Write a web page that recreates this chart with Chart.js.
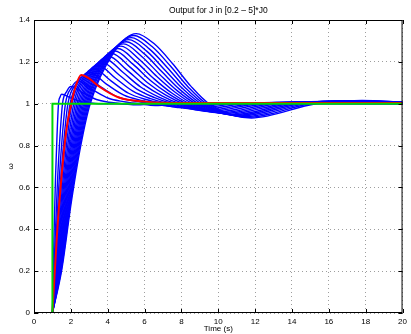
<!DOCTYPE html>
<html>
<head>
<meta charset="utf-8">
<script src="https://cdn.jsdelivr.net/npm/chart.js@4.4.1/dist/chart.umd.min.js"></script>
<style>
  html, body { margin: 0; background: #fff; }
</style>
</head>
<body>
<canvas id="chart" width="411" height="334"></canvas>
<script>
const titleText = "Output for J in [0.2 \u2013 5]*J0";
const xLabel = "Time (s)";
const yLabel = "\u03c9";

const xTicks = [0, 2, 4, 6, 8, 10, 12, 14, 16, 18, 20];
const xTickLabels = ["0", "2", "4", "6", "8", "10", "12", "14", "16", "18", "20"];
const yTicks = [0, 0.2, 0.4, 0.6, 0.8, 1, 1.2, 1.4];
const yTickLabels = ["0", "0.2", "0.4", "0.6", "0.8", "1", "1.2", "1.4"];

// reference step
const greenStep = [[0, 0], [1, 0], [1, 1], [20, 1]];

// nominal response (red)
const redStart = [[0, 0], [1, 0]];
const redCurve = [[1, 0], [1.25, 0.38], [1.5, 0.66], [1.75, 0.87], [2, 0.99], [2.25, 1.08],
  [2.56, 1.137], [3, 1.12], [3.55, 1.081], [4.6, 1.03], [6.06, 1.01], [8, 1.003], [20, 1.003]];

// responses for the J sweep (blue), fastest first
const blueCurves = [
  [[1,0],[1.08,0.35],[1.165,0.64],[1.25,0.85],[1.33,1],[1.415,1.032],[1.5,1.045],[2.0,1.027],[2.5,1.011],[3.0,1.004],[3.5,1],[20,1]],
  [[1,0],[1.137,0.332],[1.273,0.626],[1.41,0.844],[1.547,1],[1.779,1.059],[2.01,1.082],[2.70,1.049],[3.39,1.020],[4.07,1.007],[4.76,1],[5.49,0.995],[6.80,1],[9.3,1.001],[20,1]],
  [[1,0],[1.177,0.319],[1.353,0.616],[1.53,0.839],[1.707,1],[2.047,1.078],[2.387,1.109],[3.21,1.065],[4.04,1.026],[4.86,1.010],[5.69,1],[6.58,0.991],[8.13,1],[10.63,1.002],[20,1.001]],
  [[1,0],[1.21,0.308],[1.421,0.607],[1.631,0.835],[1.841,1],[2.272,1.094],[2.703,1.131],[3.645,1.079],[4.587,1.031],[5.528,1.012],[6.47,1],[7.51,0.986],[9.25,1],[11.75,1.003],[20,1.001]],
  [[1,0],[1.24,0.299],[1.479,0.600],[1.719,0.832],[1.958,1],[2.468,1.109],[2.978,1.151],[3.928,1.094],[4.879,1.041],[5.829,1.016],[6.78,1],[7.94,0.982],[9.85,1],[12.35,1.004],[20,1.002]],
  [[1,0],[1.266,0.290],[1.532,0.593],[1.797,0.829],[2.063,1],[2.644,1.121],[3.225,1.169],[4.179,1.109],[5.133,1.050],[6.086,1.020],[7.04,1],[8.31,0.978],[10.37,1],[12.87,1.004],[20,1.002]],
  [[1,0],[1.29,0.283],[1.58,0.587],[1.869,0.826],[2.159,1],[2.806,1.133],[3.452,1.185],[4.409,1.123],[5.366,1.060],[6.323,1.024],[7.28,1],[8.65,0.974],[10.85,1],[13.35,1.005],[20,1.003]],
  [[1,0],[1.312,0.275],[1.624,0.581],[1.936,0.823],[2.248,1],[2.956,1.144],[3.663,1.200],[4.623,1.137],[5.583,1.070],[6.543,1.029],[7.50,1],[8.96,0.970],[11.30,1],[13.8,1.006],[20,1.003]],
  [[1,0],[1.333,0.268],[1.667,0.576],[2.0,0.821],[2.333,1],[3.097,1.154],[3.861,1.214],[4.824,1.150],[5.787,1.080],[6.75,1.033],[7.71,1],[9.26,0.966],[11.72,1],[14.22,1.007],[20,1.004]],
  [[1,0],[1.353,0.262],[1.706,0.571],[2.059,0.819],[2.412,1],[3.23,1.164],[4.047,1.227],[5.013,1.163],[5.979,1.090],[6.944,1.038],[7.91,1],[9.54,0.963],[12.11,1],[14.61,1.008],[20,1.004]],
  [[1,0],[1.372,0.256],[1.744,0.566],[2.116,0.816],[2.488,1],[3.357,1.173],[4.226,1.240],[5.194,1.176],[6.163,1.100],[7.131,1.042],[8.10,1],[9.81,0.959],[12.49,1],[14.99,1.009],[20,1.004]],
  [[1,0],[1.39,0.250],[1.78,0.561],[2.17,0.814],[2.56,1],[3.478,1.182],[4.396,1.252],[5.367,1.189],[6.338,1.110],[7.308,1.047],[8.28,1],[10.07,0.956],[12.86,1],[15.36,1.010],[20,1.005]],
  [[1,0],[1.407,0.244],[1.815,0.557],[2.222,0.812],[2.629,1],[3.594,1.190],[4.558,1.264],[5.531,1.201],[6.504,1.120],[7.477,1.051],[8.45,1],[10.31,0.953],[13.2,1],[15.7,1.0105],[20,1.005]],
  [[1,0],[1.424,0.239],[1.848,0.553],[2.272,0.810],[2.696,1],[3.706,1.198],[4.716,1.275],[5.691,1.214],[6.667,1.130],[7.642,1.056],[8.62,1],[10.55,0.950],[13.53,1],[16.03,1.011],[20,1.006]],
  [[1,0],[1.44,0.234],[1.88,0.549],[2.319,0.808],[2.759,1],[3.812,1.206],[4.866,1.286],[5.844,1.226],[6.821,1.140],[7.799,1.060],[8.78,1],[10.78,0.947],[13.86,1],[16.36,1.012],[20,1.006]],
  [[1,0],[1.455,0.229],[1.911,0.545],[2.366,0.807],[2.821,1],[3.916,1.213],[5.011,1.296],[5.991,1.238],[6.971,1.150],[7.95,1.065],[8.93,1],[10.99,0.944],[14.16,1],[16.66,1.013],[20,1.007]],
  [[1,0],[1.47,0.224],[1.94,0.541],[2.41,0.805],[2.88,1],[4.015,1.221],[5.149,1.306],[6.131,1.250],[7.113,1.160],[8.094,1.070],[9.08,1],[11.2,0.941],[14.45,1],[16.95,1.014],[20,1.007]],
  [[1,0],[1.485,0.219],[1.969,0.537],[2.454,0.803],[2.938,1],[4.113,1.228],[5.287,1.316],[6.271,1.261],[7.255,1.171],[8.238,1.074],[9.22,1],[11.4,0.938],[14.74,1],[17.24,1.0145],[20,1.007]],
  [[1,0],[1.499,0.215],[1.998,0.534],[2.496,0.802],[2.995,1],[4.208,1.235],[5.42,1.326],[6.406,1.273],[7.392,1.181],[8.377,1.079],[9.36,1],[11.6,0.935],[15.02,1],[17.52,1.015],[20,1.008]],
  [[1,0],[1.513,0.21],[2.025,0.53],[2.538,0.80],[3.05,1],[4.3,1.241],[5.55,1.335],[6.54,1.285],[7.525,1.191],[8.51,1.084],[9.5,1],[11.8,0.932],[15.3,1],[17.8,1.016],[20,1.008]],
];

const FONT = '"Liberation Sans", Arial, sans-serif';
const toPoints = (arr) => arr.map(([x, y]) => ({ x, y }));

const datasets = [
  { data: toPoints(redStart), borderColor: "#ff0000", borderWidth: 2, order: -1 },
  { data: toPoints(greenStep), borderColor: "#00d800", borderWidth: 2, order: 0 },
  { data: toPoints(redCurve), borderColor: "#ff0000", borderWidth: 2, cubicInterpolationMode: "monotone", order: 1 },
];
blueCurves.forEach((curve) => {
  datasets.push({
    data: toPoints(curve),
    borderColor: "#0000ff",
    borderWidth: 1.4,
    cubicInterpolationMode: "monotone",
    order: 2,
  });
});

// box, inward ticks and text, drawn like a MATLAB axes
const axesFrame = {
  id: "axesFrame",
  afterDatasetsDraw(chart) {
    const { ctx, chartArea: a, scales } = chart;
    const len = 4;
    ctx.save();
    ctx.strokeStyle = "#000";
    ctx.lineWidth = 1;
    ctx.beginPath();
    ctx.rect(a.left + 0.5, a.top + 0.5, a.right - a.left - 1, a.bottom - a.top - 1);
    xTicks.forEach((v) => {
      const x = Math.round(scales.x.getPixelForValue(v)) + 0.5;
      ctx.moveTo(x, a.bottom); ctx.lineTo(x, a.bottom - len);
      ctx.moveTo(x, a.top); ctx.lineTo(x, a.top + len);
    });
    yTicks.forEach((v) => {
      const y = Math.round(scales.y.getPixelForValue(v)) + 0.5;
      ctx.moveTo(a.left, y); ctx.lineTo(a.left + len, y);
      ctx.moveTo(a.right, y); ctx.lineTo(a.right - len, y);
    });
    ctx.stroke();
    ctx.restore();
  },
  afterDraw(chart) {
    const { ctx, chartArea: a } = chart;
    const cx = (a.left + a.right) / 2;
    ctx.save();
    ctx.fillStyle = "#000";
    ctx.textAlign = "center";
    ctx.textBaseline = "middle";
    ctx.font = "8.5px " + FONT;
    ctx.fillText(titleText, cx, 11);
    ctx.font = "8px " + FONT;
    ctx.fillText(xLabel, cx, 329);
    ctx.translate(11, (a.top + a.bottom) / 2);
    ctx.rotate(-Math.PI / 2);
    ctx.fillText(yLabel, 0, 0);
    ctx.restore();
  },
};

new Chart(document.getElementById("chart"), {
  type: "line",
  data: { datasets },
  options: {
    responsive: false,
    animation: false,
    elements: { point: { radius: 0 }, line: { tension: 0 } },
    layout: { padding: { left: 0, right: 5, top: 20, bottom: 0 } },
    plugins: { legend: { display: false }, title: { display: false }, tooltip: { enabled: false } },
    scales: {
      x: {
        type: "linear",
        min: 0,
        max: 20,
        afterBuildTicks: (axis) => { axis.ticks = xTicks.map((v) => ({ value: v })); },
        afterFit: (axis) => { axis.height = 21; },
        ticks: {
          callback: (v, i) => xTickLabels[i],
          font: { family: FONT, size: 8 },
          color: "#000",
          padding: 4,
          maxRotation: 0,
          autoSkip: false,
        },
        grid: { color: "rgba(0,0,0,0.38)", lineWidth: 1, drawTicks: false },
        border: { display: false, dash: [1, 3] },
      },
      y: {
        type: "linear",
        min: 0,
        max: 1.4,
        afterBuildTicks: (axis) => { axis.ticks = yTicks.map((v) => ({ value: v })); },
        afterFit: (axis) => { axis.width = 34; },
        ticks: {
          callback: (v, i) => yTickLabels[i],
          font: { family: FONT, size: 8 },
          color: "#000",
          padding: 4,
          autoSkip: false,
        },
        grid: { color: "rgba(0,0,0,0.38)", lineWidth: 1, drawTicks: false },
        border: { display: false, dash: [1, 3] },
      },
    },
  },
  plugins: [axesFrame],
});
</script>
</body>
</html>
